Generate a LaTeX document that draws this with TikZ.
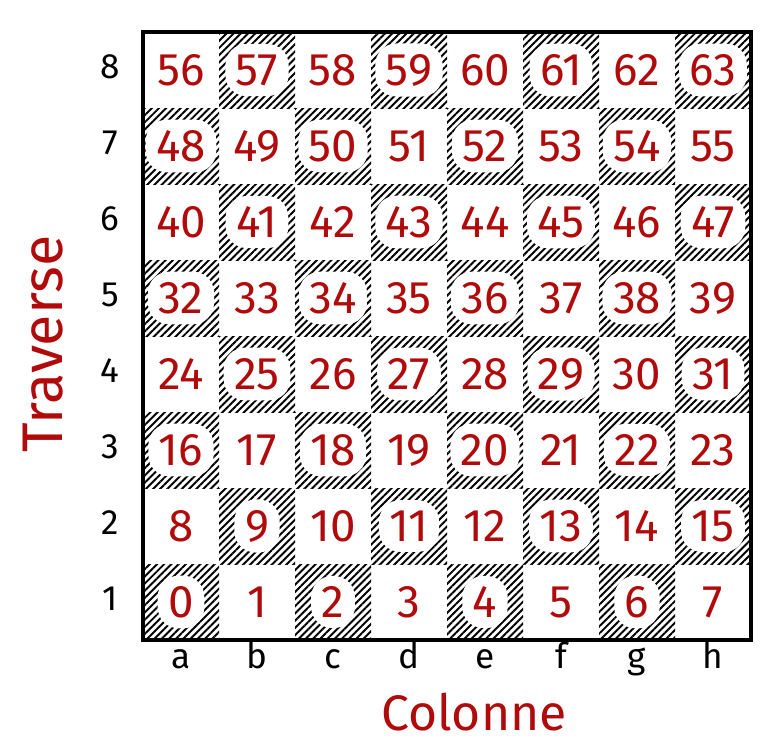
\documentclass[tikz,border=0pt]{standalone}
\usepackage{fontspec}
\setmainfont{Fira Sans}
\usetikzlibrary{patterns.meta,positioning}
\definecolor{numred}{HTML}{B00A0A}
\tikzset{
  square/.style={draw=none,minimum size=0.76cm,inner sep=0pt,outer sep=0pt},
  darksq/.style={square,pattern={Lines[angle=45,distance=1.45pt,line width=.55pt]}},
  num/.style={text=numred,font=\fontsize{13}{15}\selectfont,inner sep=1pt},
  halo/.style={num,fill=white,rounded corners=6pt,inner xsep=3pt,inner ysep=3pt},
  coordlab/.style={font=\fontsize{10}{12}\selectfont,anchor=base},
  axistitle/.style={text=numred,anchor=base}}
\begin{document}
\begin{tikzpicture}
\useasboundingbox (0,0) rectangle (7.82,7.50);
% squares and numbers
\foreach \r in {0,...,7}{
  \foreach \c in {0,...,7}{
    \pgfmathtruncatemacro{\n}{8*\r+\c}
    \pgfmathtruncatemacro{\sqodd}{mod(\r+\c,2)}
    \ifnum\sqodd=0
      \node[darksq] (sq-\r-\c) at ({1.81+0.76*\c},{1.48+0.76*\r}) {};
      \node[halo] (n-\r-\c) at (sq-\r-\c) {\n};
    \else
      \node[square] (sq-\r-\c) at ({1.81+0.76*\c},{1.48+0.76*\r}) {};
      \node[num] (n-\r-\c) at (sq-\r-\c) {\n};
    \fi
  }
}
\draw[line width=1pt] (sq-0-0.south west) rectangle (sq-7-7.north east);
% ranks and files
\foreach \r [count=\k] in {0,...,7}
  \node[coordlab] (rank-\r) at (1.10,{1.40+0.76*\r}) {\k};
\foreach \f [count=\c from 0] in {a,b,c,d,e,f,g,h}
  \node[coordlab] (file-\c) at ({1.81+0.76*\c},0.82) {\f};
\node[axistitle,rotate=90,font=\fontsize{16.3}{19}\selectfont] (traverse) at (0.62,4.06) {Traverse};
\node[axistitle,font=\fontsize{14.2}{17}\selectfont] (colonne) at (4.74,0.20) {Colonne};
\end{tikzpicture}
\end{document}
